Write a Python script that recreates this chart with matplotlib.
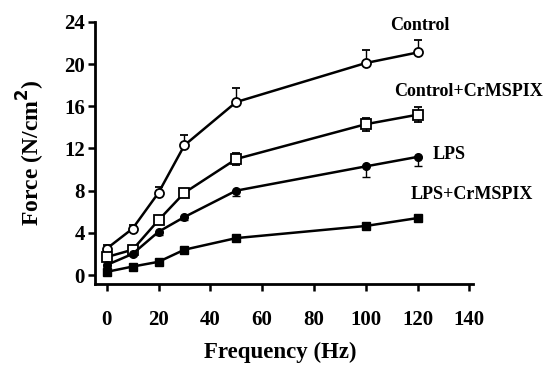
import matplotlib.pyplot as plt

plt.rcParams['font.family'] = ['Liberation Serif', 'DejaVu Serif']
plt.rcParams['font.weight'] = 'bold'

freq = [0, 10, 20, 30, 50, 100, 120]
control = [2.5, 4.4, 7.8, 12.3, 16.4, 20.1, 21.1]
control_err = [0.3, 0.3, 0.5, 1.0, 1.3, 1.2, 1.2]
control_cr = [1.7, 2.4, 5.2, 7.8, 11.0, 14.3, 15.2]
control_cr_err = [0.2, 0.2, 0.4, 0.3, 0.6, 0.6, 0.7]
lps = [0.95, 2.0, 4.1, 5.5, 8.0, 10.3, 11.2]
lps_err = [0.2, 0.2, 0.3, 0.3, 0.5, 1.0, 0.9]
lps_cr = [0.3, 0.8, 1.25, 2.4, 3.5, 4.65, 5.4]
lps_cr_err = [0.1, 0.1, 0.1, 0.2, 0.2, 0.2, 0.3]

fig = plt.figure(figsize=(5.51, 3.65), dpi=100)
ax = fig.add_axes([0.172, 0.222, 0.686, 0.718])

# control: error bars up, open circles
ax.errorbar(freq, control, yerr=[[0] * 7, control_err], color='black', lw=1.8,
            marker='o', ms=6.5, mfc='white', mec='black', mew=1.3, capsize=3, elinewidth=1)
ax.errorbar(freq, control_cr, yerr=control_cr_err, color='black', lw=1.8,
            marker='s', ms=6.5, mfc='white', mec='black', mew=1.3, capsize=3, elinewidth=1)
ax.errorbar(freq, lps, yerr=[lps_err, [0] * 7], color='black', lw=1.8,
            marker='o', ms=5.5, mfc='black', mec='black', capsize=3, elinewidth=1)
ax.errorbar(freq, lps_cr, yerr=lps_cr_err, color='black', lw=1.8,
            marker='s', ms=6, mfc='black', mec='black', capsize=3, elinewidth=1)

ax.text(121, 23.7, 'Control', ha='center', va='center', fontsize=13)
ax.text(139.5, 17.4, 'Control+CrMSPIX', ha='center', va='center', fontsize=13)
ax.text(132, 11.4, 'LPS', ha='center', va='center', fontsize=13)
ax.text(141, 7.6, 'LPS+CrMSPIX', ha='center', va='center', fontsize=13)

ax.set_xlim(-4.6, 141.3)
ax.set_ylim(-0.85, 24)
ax.set_xticks(range(0, 141, 20))
ax.set_yticks(range(0, 25, 4))
for s in ['top', 'right']:
    ax.spines[s].set_visible(False)
for s in ['left', 'bottom']:
    ax.spines[s].set_linewidth(2)
ax.tick_params(direction='out', length=5, width=1.8, labelsize=15)
ax.tick_params(axis='x', pad=14)
ax.tick_params(axis='y', pad=2)
ax.set_xlabel('Frequency (Hz)', fontsize=16.5, fontweight='bold', va='center')
ax.set_ylabel('Force (N/cm$^2$)', fontsize=17, fontweight='bold', va='center')
ax.xaxis.set_label_coords(0.49, -0.26)
ax.yaxis.set_label_coords(-0.17, 0.5)

fig.savefig('out.png', dpi=100)
